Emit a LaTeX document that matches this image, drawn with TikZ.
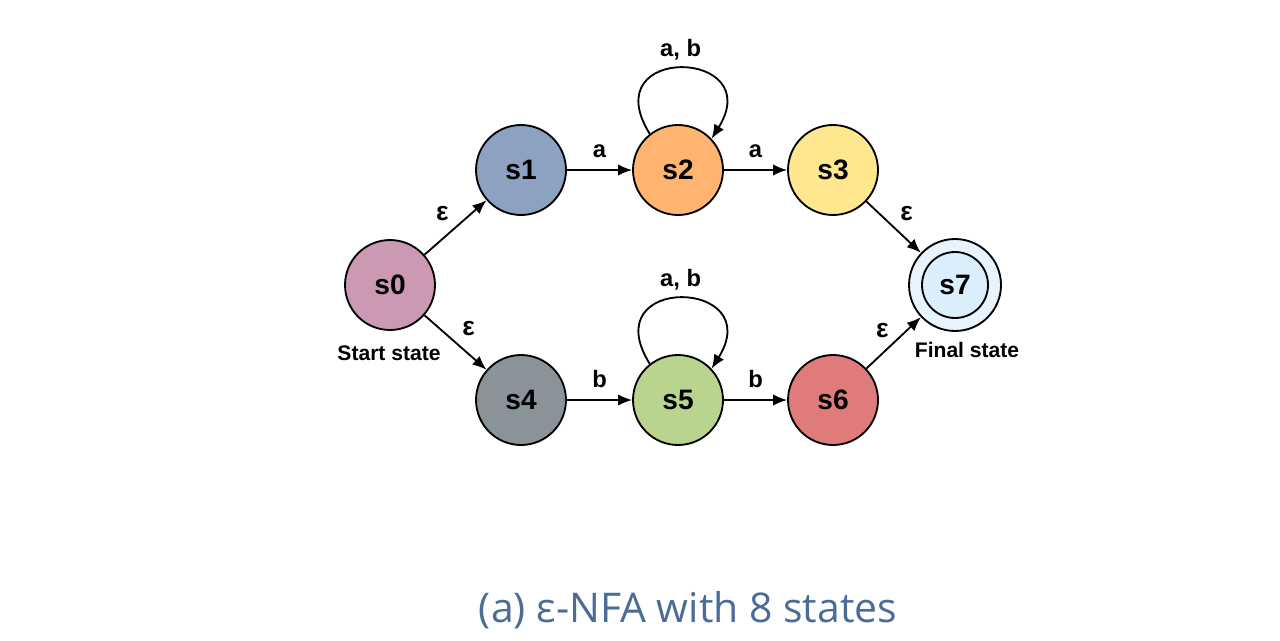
\documentclass[tikz,border=0pt]{standalone}
\usepackage{fontspec}
\setmainfont{Liberation Sans}
\newfontfamily\capfont{Open Sans}
\usetikzlibrary{arrows.meta}
\definecolor{czero}{RGB}{204,153,181}
\definecolor{cone}{RGB}{141,162,192}
\definecolor{ctwo}{RGB}{255,181,112}
\definecolor{cthree}{RGB}{255,231,143}
\definecolor{cfour}{RGB}{138,147,152}
\definecolor{cfive}{RGB}{184,212,142}
\definecolor{csix}{RGB}{224,123,124}
\definecolor{csevena}{RGB}{232,244,253}
\definecolor{csevenb}{RGB}{218,238,252}
\definecolor{capblue}{RGB}{74,108,150}
\begin{document}
\begin{tikzpicture}[x=.02cm,y=.02cm,line width=1.05pt,
  st/.style={circle,draw,minimum size=1.8cm,inner sep=0pt,font=\fontsize{16}{18}\selectfont\bfseries},
  lbl/.style={font=\fontsize{13.5}{15}\selectfont\bfseries},
  eps/.style={font=\fontsize{15}{17}\selectfont\bfseries},
  note/.style={font=\fontsize{12}{14}\selectfont\bfseries},
  tr/.style={-{Latex[length=8pt,width=6.5pt]}}]
  \useasboundingbox (0,0) rectangle (1280,640);
  \node[st,fill=czero]  (s0) at (390,355) {s0};
  \node[st,fill=cone]   (s1) at (521,470) {s1};
  \node[st,fill=ctwo]   (s2) at (678,470) {s2};
  \node[st,fill=cthree] (s3) at (833,470) {s3};
  \node[st,fill=cfour]  (s4) at (521,240) {s4};
  \node[st,fill=cfive]  (s5) at (678,240) {s5};
  \node[st,fill=csix]   (s6) at (833,240) {s6};
  \node[st,fill=csevena,minimum size=1.84cm] (s7) at (955,355) {};
  \node[st,fill=csevenb,minimum size=1.32cm] (s7in) at (s7) {s7};
  \node[note] (start) at (389,287) {Start state};
  \node[note] (final) at (967,290) {Final state};
  \draw[tr] (s0) -- node[eps,above left=0pt] (e01) {ε} (s1);
  \draw[tr] (s0) -- node[eps,above right=0pt] (e04) {ε} (s4);
  \draw[tr] (s1) -- node[lbl,above=3pt] (a12) {a} (s2);
  \draw[tr] (s2) -- node[lbl,above=3pt] (a23) {a} (s3);
  \draw[tr] (s4) -- node[lbl,above=3pt] (b45) {b} (s5);
  \draw[tr] (s5) -- node[lbl,above=3pt] (b56) {b} (s6);
  \draw[tr] (s3) -- node[eps,above right=0pt] (e37) {ε} (s7);
  \draw[tr] (s6) -- node[eps,above left=-1pt] (e67) {ε} (s7);
  \draw[tr] (s2.128) to[out=122,in=58,looseness=4.4] node[lbl,above=1pt] (ab2) {a, b} (s2.43);
  \draw[tr] (s5.128) to[out=122,in=58,looseness=4.4] node[lbl,above=1pt] (ab5) {a, b} (s5.43);
  \node[font=\capfont\fontsize{23.3}{27}\selectfont,text=capblue,anchor=base] (cap) at (688,18) {(a) ε-NFA with 8 states};
\end{tikzpicture}
\end{document}
